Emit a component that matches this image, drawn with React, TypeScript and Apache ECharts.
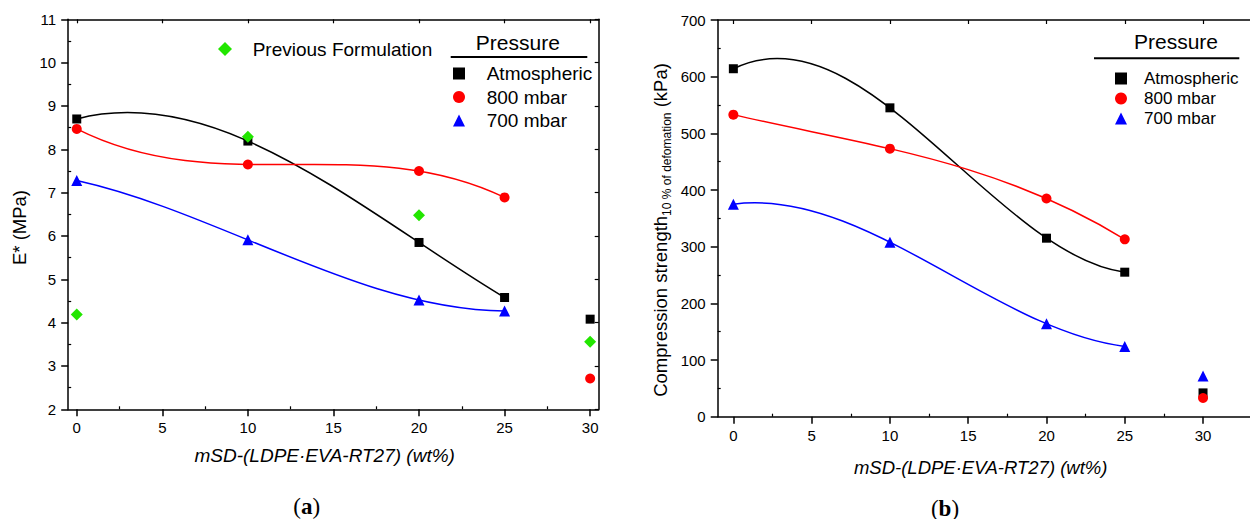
import React, { useEffect, useRef } from "react";
import * as echarts from "echarts";

// ---- data ----
const xFit = [0, 10, 20, 25];
const xAll = [0, 10, 20, 25, 30];
const xPrev = [0, 10, 20, 30];

// (a) E* (MPa)
const eAtm = [8.7, 8.19, 5.85, 4.58, 4.08];
const e800 = [8.47, 7.65, 7.5, 6.89, 2.71];
const e700 = [7.28, 5.91, 4.52, 4.27];
const ePrev = [4.19, 8.29, 6.48, 3.56];

// (b) Compression strength (kPa)
const cAtm = [614, 545, 315, 255, 42];
const c800 = [533, 473, 385, 313, 33];
const c700 = [375, 308, 164, 124, 72];

// ticks
const xTicks = [0, 5, 10, 15, 20, 25, 30];
const xMinor = [2.5, 7.5, 12.5, 17.5, 22.5, 27.5];
const eMinor = [2.5, 3.5, 4.5, 5.5, 6.5, 7.5, 8.5, 9.5, 10.5];
const cMinor = [50, 150, 250, 350, 450, 550, 650];

const seriesNames = ["Atmospheric", "800 mbar", "700 mbar"];
const prevName = "Previous Formulation";

const FONT = "'Liberation Sans', Arial, sans-serif";
const SERIF = "'Liberation Serif', 'Times New Roman', serif";
const BLACK = "#000000";
const RED = "#ff0000";
const BLUE = "#0000ff";
const GREEN = "#22e600";

const pts = (xs: number[], ys: number[]) => xs.map((x, i) => [x, ys[i]]);

// Cubic fit through the 4 fitted points (Newton form), drawn exactly as one Bezier curve.
function cubicBezier(p: number[][]) {
  const [x0, x1, x2, x3] = p.map((q) => q[0]);
  const [y0, y1, y2, y3] = p.map((q) => q[1]);
  const f01 = (y1 - y0) / (x1 - x0);
  const f12 = (y2 - y1) / (x2 - x1);
  const f23 = (y3 - y2) / (x3 - x2);
  const f012 = (f12 - f01) / (x2 - x0);
  const f123 = (f23 - f12) / (x3 - x1);
  const f0123 = (f123 - f012) / (x3 - x0);
  const dp = (x: number) =>
    f01 + f012 * ((x - x0) + (x - x1)) +
    f0123 * ((x - x1) * (x - x2) + (x - x0) * (x - x2) + (x - x0) * (x - x1));
  const h = (x3 - x0) / 3;
  return {
    p0: [x0, y0],
    c1: [x0 + h, y0 + h * dp(x0)],
    c2: [x3 - h, y3 - h * dp(x3)],
    p3: [x3, y3],
  };
}

function mainX(gi: number, min: number, max: number) {
  return {
    type: "value", gridIndex: gi, min, max, position: "bottom",
    axisLine: { show: true, onZero: false, lineStyle: { color: BLACK, width: 1.5 } },
    axisTick: { show: true, customValues: xTicks, length: 7, lineStyle: { color: BLACK, width: 1.5 } },
    axisLabel: { show: true, customValues: xTicks, color: BLACK, fontSize: 15, fontFamily: FONT, margin: 11 },
    splitLine: { show: false },
  };
}
function topX(gi: number, min: number, max: number) {
  return {
    type: "value", gridIndex: gi, min, max, position: "top",
    axisLine: { show: true, onZero: false, lineStyle: { color: BLACK, width: 1.5 } },
    axisTick: { show: true, inside: true, customValues: xTicks, length: 4, lineStyle: { color: BLACK, width: 1.2 } },
    axisLabel: { show: false },
    splitLine: { show: false },
  };
}
function minorX(gi: number, min: number, max: number) {
  return {
    type: "value", gridIndex: gi, min, max, position: "bottom",
    axisLine: { show: false, onZero: false },
    axisTick: { show: true, inside: true, customValues: xMinor, length: 3, lineStyle: { color: BLACK, width: 1.2 } },
    axisLabel: { show: false },
    splitLine: { show: false },
  };
}
function mainY(gi: number, min: number, max: number, interval: number) {
  return {
    type: "value", gridIndex: gi, min, max, interval, position: "left",
    axisLine: { show: true, onZero: false, lineStyle: { color: BLACK, width: 1.5 } },
    axisTick: { show: true, length: 7, lineStyle: { color: BLACK, width: 1.5 } },
    axisLabel: { show: true, color: BLACK, fontSize: 15, fontFamily: FONT, margin: 12 },
    splitLine: { show: false },
  };
}
function minorY(gi: number, min: number, max: number, vals: number[]) {
  return {
    type: "value", gridIndex: gi, min, max, position: "left",
    axisLine: { show: false, onZero: false },
    axisTick: { show: true, inside: true, customValues: vals, length: 3, lineStyle: { color: BLACK, width: 1.2 } },
    axisLabel: { show: false },
    splitLine: { show: false },
  };
}
function rightY(gi: number, min: number, max: number, interval: number) {
  return {
    type: "value", gridIndex: gi, min, max, interval, position: "right",
    axisLine: { show: true, onZero: false, lineStyle: { color: BLACK, width: 1.5 } },
    axisTick: { show: true, inside: true, length: 4, lineStyle: { color: BLACK, width: 1.2 } },
    axisLabel: { show: false },
    splitLine: { show: false },
  };
}

function fitCurve(name: string, xi: number, yi: number, data: number[][], color: string) {
  const b = cubicBezier(data);
  return {
    type: "custom", name, xAxisIndex: xi, yAxisIndex: yi, data, silent: true, z: 2,
    encode: { x: 0, y: 1 },
    renderItem: (params: any, api: any) => {
      if (params.dataIndex !== 0) return null;
      const p0 = api.coord(b.p0);
      const c1 = api.coord(b.c1);
      const c2 = api.coord(b.c2);
      const p3 = api.coord(b.p3);
      return {
        type: "bezierCurve",
        shape: { x1: p0[0], y1: p0[1], cpx1: c1[0], cpy1: c1[1], cpx2: c2[0], cpy2: c2[1], x2: p3[0], y2: p3[1] },
        style: { stroke: color, lineWidth: 1.5, fill: null },
      };
    },
  };
}
function marks(name: string, xi: number, yi: number, data: number[][], color: string, symbol: string, size: number) {
  return {
    type: "scatter", name, xAxisIndex: xi, yAxisIndex: yi, data, symbol, symbolSize: size,
    itemStyle: { color, opacity: 1 }, z: 3,
  };
}

export default function App() {
  const ref = useRef<HTMLDivElement>(null);
  useEffect(() => {
    if (!ref.current) return;
    const chart = echarts.init(ref.current, null, { renderer: "svg" });
    const option: any = {
      animation: false,
      backgroundColor: "#ffffff",
      grid: [
        { left: 68.2, top: 19.3, width: 530.5, height: 390 },
        { left: 717.7, top: 20, width: 541, height: 396.7 },
      ],
      xAxis: [
        mainX(0, -0.5, 30.5), topX(0, -0.5, 30.5), minorX(0, -0.5, 30.5),
        mainX(1, -1, 33), topX(1, -1, 33), minorX(1, -1, 33),
      ],
      yAxis: [
        mainY(0, 2, 11, 1), rightY(0, 2, 11, 1), minorY(0, 2, 11, eMinor),
        mainY(1, 0, 700, 100), minorY(1, 0, 700, cMinor),
      ],
      legend: [
        {
          orient: "vertical", left: 448, top: 59, itemWidth: 12, itemHeight: 12, itemGap: 4.5,
          data: seriesNames, selectedMode: false,
          textStyle: { fontSize: 19, color: BLACK, fontFamily: FONT, padding: [0, 0, 0, 16.7] },
        },
        {
          orient: "vertical", left: 213, top: 34.5, itemWidth: 14, itemHeight: 14,
          data: [prevName], selectedMode: false,
          textStyle: { fontSize: 19, color: BLACK, fontFamily: FONT, padding: [0, 0, 0, 15.7] },
        },
        {
          orient: "vertical", left: 1110, top: 65, itemWidth: 12, itemHeight: 12, itemGap: 3,
          data: seriesNames, selectedMode: false,
          textStyle: { fontSize: 17, color: BLACK, fontFamily: FONT, padding: [0, 0, 0, 12] },
        },
      ],
      series: [
        fitCurve("Atmospheric fit", 0, 0, pts(xFit, eAtm), BLACK),
        fitCurve("800 mbar fit", 0, 0, pts(xFit, e800), RED),
        fitCurve("700 mbar fit", 0, 0, pts(xFit, e700), BLUE),
        marks(seriesNames[0], 0, 0, pts(xAll, eAtm), BLACK, "rect", 9),
        marks(seriesNames[1], 0, 0, pts(xAll, e800), RED, "circle", 10),
        marks(seriesNames[2], 0, 0, pts(xFit, e700), BLUE, "triangle", 11),
        marks(prevName, 0, 0, pts(xPrev, ePrev), GREEN, "diamond", 12),

        fitCurve("Atmospheric fit", 3, 3, pts(xFit, cAtm), BLACK),
        fitCurve("800 mbar fit", 3, 3, pts(xFit, c800), RED),
        fitCurve("700 mbar fit", 3, 3, pts(xFit, c700), BLUE),
        marks(seriesNames[0], 3, 3, pts(xAll, cAtm), BLACK, "rect", 9),
        marks(seriesNames[2], 3, 3, pts(xAll, c700), BLUE, "triangle", 11),
        marks(seriesNames[1], 3, 3, pts(xAll, c800), RED, "circle", 10),
      ],
      graphic: [
        { type: "text", x: 517.8, y: 42.7, style: { text: "Pressure", fontSize: 21, fontFamily: FONT, fill: BLACK, align: "center", verticalAlign: "middle" } },
        { type: "line", shape: { x1: 450.7, y1: 57, x2: 587.3, y2: 57 }, style: { stroke: BLACK, lineWidth: 2 } },
        { type: "text", x: 1176, y: 41.7, style: { text: "Pressure", fontSize: 21, fontFamily: FONT, fill: BLACK, align: "center", verticalAlign: "middle" } },
        { type: "line", shape: { x1: 1094, y1: 58.3, x2: 1239.3, y2: 58.3 }, style: { stroke: BLACK, lineWidth: 2 } },
        { type: "text", x: 19, y: 227.5, rotation: Math.PI / 2, style: { text: "E* (MPa)", fontSize: 18.5, fontFamily: FONT, fill: BLACK, align: "center", verticalAlign: "middle" } },
        {
          type: "text", x: 660, y: 230, rotation: Math.PI / 2,
          style: {
            text: "{m|Compression strength}{s|10 % of defomation}{m| (kPa)}",
            fill: BLACK, align: "center", verticalAlign: "middle", fontFamily: FONT,
            rich: {
              m: { fontSize: 18.5, fontFamily: FONT, fill: BLACK, lineHeight: 26, verticalAlign: "middle" },
              s: { fontSize: 12, fontFamily: FONT, fill: BLACK, lineHeight: 12, verticalAlign: "bottom" },
            },
          },
        },
        { type: "text", x: 324.7, y: 455, style: { text: "mSD-(LDPE\u00b7EVA-RT27) (wt%)", fontSize: 19, fontStyle: "italic", fontFamily: FONT, fill: BLACK, align: "center", verticalAlign: "middle" } },
        { type: "text", x: 980.7, y: 467, style: { text: "mSD-(LDPE\u00b7EVA-RT27) (wt%)", fontSize: 18.5, fontStyle: "italic", fontFamily: FONT, fill: BLACK, align: "center", verticalAlign: "middle" } },
        {
          type: "text", x: 306.7, y: 506.7,
          style: {
            text: "{p|(}{b|a}{p|)}", align: "center", verticalAlign: "middle", fill: BLACK,
            rich: { p: { fontSize: 23, fontFamily: SERIF, fill: BLACK }, b: { fontSize: 23, fontFamily: SERIF, fontWeight: "bold", fill: BLACK } },
          },
        },
        {
          type: "text", x: 945, y: 508,
          style: {
            text: "{p|(}{b|b}{p|)}", align: "center", verticalAlign: "middle", fill: BLACK,
            rich: { p: { fontSize: 23, fontFamily: SERIF, fill: BLACK }, b: { fontSize: 23, fontFamily: SERIF, fontWeight: "bold", fill: BLACK } },
          },
        },
      ],
    };
    chart.setOption(option);
    return () => chart.dispose();
  }, []);
  return (
    <div
      ref={ref}
      style={{ position: "fixed", left: 0, top: 0, width: 1250, height: 519, background: "#fff" }}
    />
  );
}
